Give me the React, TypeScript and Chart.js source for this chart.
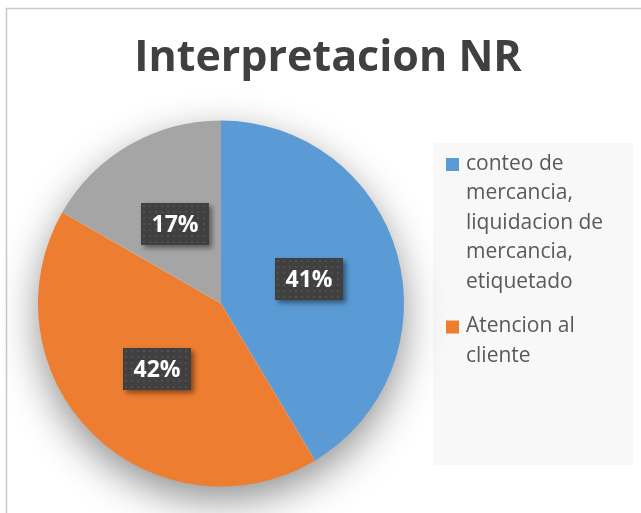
import React, { useEffect, useRef } from "react";
import { Chart, registerables } from "chart.js";

Chart.register(...registerables);

const TITLE = "Interpretacion NR";
const CATEGORIES = [
  "conteo de mercancia, liquidacion de mercancia, etiquetado",
  "Atencion al cliente",
  "",
];
const VALUES = [41.4, 41.9, 16.7];
const COLORS = ["#5B9BD5", "#ED7D31", "#A5A5A5"];

const FONT = "'Open Sans', 'Noto Sans', sans-serif";

function wrapText(ctx: CanvasRenderingContext2D, text: string, maxWidth: number): string[] {
  const words = text.split(" ");
  const lines: string[] = [];
  let cur = "";
  for (const w of words) {
    const test = cur ? cur + " " + w : w;
    if (ctx.measureText(test).width > maxWidth && cur) {
      lines.push(cur);
      cur = w;
    } else {
      cur = test;
    }
  }
  if (cur) lines.push(cur);
  return lines;
}

const framePlugin = {
  id: "framePlugin",
  beforeDraw(chart: any) {
    const ctx: CanvasRenderingContext2D = chart.ctx;
    const W = chart.width;
    const H = chart.height;
    ctx.save();
    ctx.fillStyle = "#ffffff";
    ctx.fillRect(0, 0, W, H);
    // frame
    ctx.strokeStyle = "#c9c9c9";
    ctx.lineWidth = 1.5;
    ctx.beginPath();
    ctx.moveTo(6.5, H + 2);
    ctx.lineTo(6.5, 8.5);
    ctx.lineTo(W + 2, 8.5);
    ctx.stroke();
    // title
    ctx.fillStyle = "#404040";
    ctx.font = `bold 43px ${FONT}`;
    ctx.textAlign = "center";
    ctx.textBaseline = "middle";
    ctx.fillText(TITLE, 328, 59);
    // legend box
    ctx.fillStyle = "#f8f8f8";
    ctx.fillRect(433, 143, 200, 322);
    ctx.font = `21px ${FONT}`;
    ctx.textAlign = "left";
    ctx.textBaseline = "middle";
    let y = 164;
    CATEGORIES.forEach((label, i) => {
      if (!label) return;
      ctx.fillStyle = COLORS[i];
      ctx.fillRect(446, y - 6, 13, 13);
      ctx.fillStyle = "#595959";
      const lines = wrapText(ctx, label, 162);
      lines.forEach((ln, j) => {
        ctx.fillText(ln, 466, y + j * 29.5);
      });
      y += lines.length * 29.5 + 15;
    });
    ctx.restore();
  },
  beforeDatasetsDraw(chart: any) {
    const meta = chart.getDatasetMeta(0);
    const arc = meta.data[0];
    if (!arc) return;
    const ctx: CanvasRenderingContext2D = chart.ctx;
    const { x, y, outerRadius } = arc.getProps(["x", "y", "outerRadius"], true);
    ctx.save();
    ctx.shadowColor = "rgba(0,0,0,0.45)";
    ctx.shadowBlur = 40;
    ctx.shadowOffsetY = 14;
    ctx.fillStyle = "#ffffff";
    ctx.beginPath();
    ctx.arc(x, y, outerRadius - 1, 0, Math.PI * 2);
    ctx.fill();
    ctx.restore();
  },
  afterDatasetsDraw(chart: any) {
    const ctx: CanvasRenderingContext2D = chart.ctx;
    const meta = chart.getDatasetMeta(0);
    const total = VALUES.reduce((a, b) => a + b, 0);
    const pc = document.createElement("canvas");
    pc.width = 6;
    pc.height = 6;
    const pctx = pc.getContext("2d")!;
    pctx.fillStyle = "#404040";
    pctx.fillRect(0, 0, 6, 6);
    pctx.fillStyle = "#4f4f4f";
    pctx.fillRect(2, 2, 2, 2);
    const pattern = ctx.createPattern(pc, "repeat")!;
    meta.data.forEach((arc: any, i: number) => {
      const p = arc.getCenterPoint();
      const text = Math.round((VALUES[i] / total) * 100) + "%";
      const w = 68;
      const h = 42;
      const bx = Math.round(p.x - w / 2);
      const by = Math.round(p.y - h / 2);
      ctx.save();
      ctx.shadowColor = "rgba(0,0,0,0.45)";
      ctx.shadowBlur = 5;
      ctx.shadowOffsetX = 3;
      ctx.shadowOffsetY = 3;
      ctx.fillStyle = "#404040";
      ctx.fillRect(bx, by, w, h);
      ctx.restore();
      ctx.save();
      ctx.translate(bx, by);
      ctx.fillStyle = pattern;
      ctx.fillRect(0, 0, w, h);
      ctx.restore();
      ctx.save();
      ctx.fillStyle = "#ffffff";
      ctx.font = `bold 23px ${FONT}`;
      ctx.textAlign = "center";
      ctx.textBaseline = "middle";
      ctx.fillText(text, bx + w / 2, by + h / 2 + 1);
      ctx.restore();
    });
  },
};

export default function App() {
  const ref = useRef<HTMLCanvasElement | null>(null);
  useEffect(() => {
    document.body.style.margin = "0";
    const canvas = ref.current!;
    const chart = new Chart(canvas, {
      type: "pie",
      data: {
        labels: CATEGORIES,
        datasets: [
          {
            data: VALUES,
            backgroundColor: COLORS,
            borderWidth: 0,
            hoverOffset: 0,
            offset: 0,
          },
        ],
      },
      options: {
        animation: false,
        responsive: false,
        events: [],
        layout: { padding: { left: 38, right: 237, top: 120, bottom: 26 } },
        plugins: {
          legend: { display: false },
          title: { display: false },
          tooltip: { enabled: false },
        },
      },
      plugins: [framePlugin],
    });
    return () => chart.destroy();
  }, []);
  return (
    <canvas
      ref={ref}
      width={641}
      height={513}
      style={{ display: "block", width: 641, height: 513 }}
    />
  );
}
